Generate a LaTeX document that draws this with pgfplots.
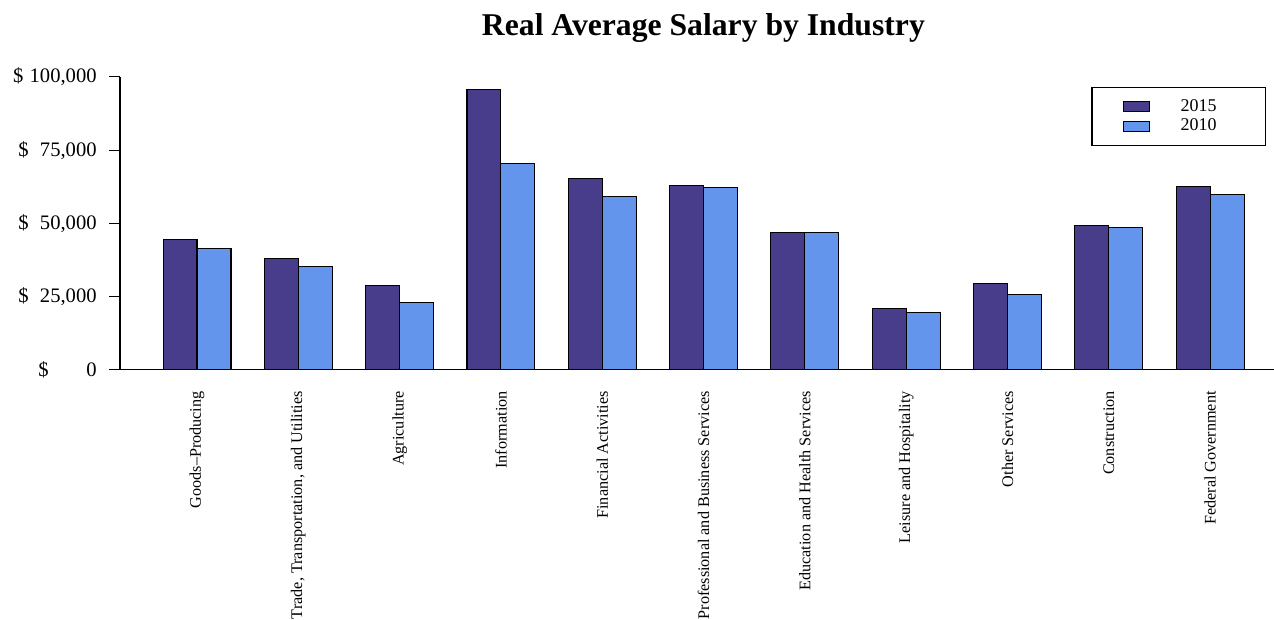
\documentclass[border=0pt]{standalone}
\usepackage{fontspec}
\setmainfont{Liberation Serif}
\usepackage{pgfplots}
\pgfplotsset{compat=1.18}
\definecolor{c15}{HTML}{483D8B}
\definecolor{c10}{HTML}{6495ED}
\begin{document}
\begin{tikzpicture}
\begin{axis}[
  at={(0pt,0pt)}, anchor=south west,
  scale only axis, width=655.7pt, height=166.5pt,
  xmin=-0.76, xmax=10.63, ymin=0, ymax=100000,
  axis lines=left, axis line style={-, line width=0.6pt},
  ybar=0pt, bar width=19.3pt,
  xtick={0,...,10},
  xticklabels={Goods--Producing, {Trade, Transportation, and Utilities}, Agriculture, Information, Financial Activities, Professional and Business Services, Education and Health Services, Leisure and Hospitality, Other Services, Construction, Federal Government},
  xtick style={draw=none},
  xticklabel shift=5.7pt,
  xticklabel style={rotate=90, anchor=east, inner sep=0pt, font=\fontsize{9.2}{10}\selectfont},
  scaled y ticks=false,
  ytick={0,25000,50000,75000,100000},
  yticklabels={{\$\hspace{21.4pt}0}, {\$\hspace{6.5pt}25,000}, {\$\hspace{6.5pt}50,000}, {\$\hspace{6.5pt}75,000}, {\$\hspace{3.6pt}100,000}},
  yticklabel style={anchor=east, inner sep=0pt, xshift=-6.85pt, font=\fontsize{11.7}{13}\selectfont},
  tick align=outside, major tick length=6.25pt, ytick style={line width=0.6pt, black},
  legend style={at={(0.9931,0.967)}, anchor=north east, draw=black, line width=0.6pt,
    inner xsep=0pt, inner ysep=7pt, row sep=2.8pt, column sep=17.6pt,
    nodes={inner sep=0pt, font=\fontsize{10.2}{12}\selectfont}},
  legend cell align=left,
  legend image code/.code={\path (0pt,-2.85pt) (17.4pt,2.85pt);\draw[#1, line width=0.6pt] (17.4pt,-2.85pt) rectangle (32.2pt,2.85pt);},
]
\addplot[fill=c15, draw=black, line width=0.6pt] coordinates {
(0,44600) (1,38000) (2,28800) (3,95800) (4,65400) (5,62900) (6,47000) (7,20900) (8,29600) (9,49400) (10,62600)};
\addplot[fill=c10, draw=black, line width=0.6pt] coordinates {
(0,41500) (1,35300) (2,22900) (3,70600) (4,59300) (5,62200) (6,47000) (7,19500) (8,25600) (9,48700) (10,60000)};
\legend{2015\rule{27.8pt}{0pt}, 2010\rule{27.8pt}{0pt}}
\end{axis}
\node[anchor=base, font=\fontsize{18}{20}\selectfont\bfseries] at (331.5pt,190.3pt) {Real Average Salary by Industry};
\pgfresetboundingbox
\path (-68.2pt,-142pt) rectangle (655.7pt,210.2pt);
\end{tikzpicture}
\end{document}
